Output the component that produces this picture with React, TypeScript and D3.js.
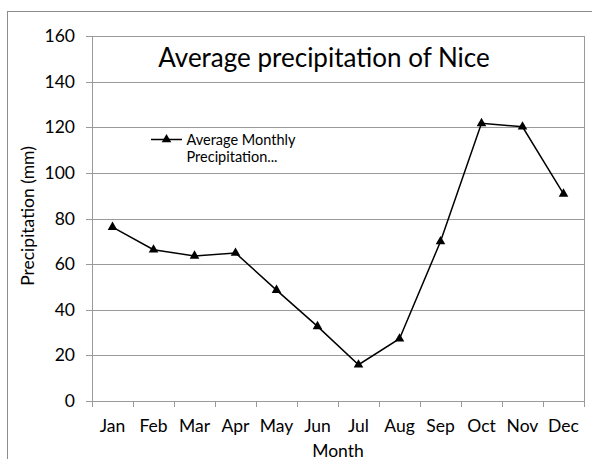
import React from "react";
import * as d3 from "d3";

const months = ["Jan", "Feb", "Mar", "Apr", "May", "Jun", "Jul", "Aug", "Sep", "Oct", "Nov", "Dec"];
const precipitation = [76.2, 66.3, 63.6, 64.9, 48.6, 32.7, 15.9, 27.3, 69.9, 121.7, 120.2, 90.8];
const yTicks = [0, 20, 40, 60, 80, 100, 120, 140, 160];
const titleText = "Average precipitation of Nice";
const legendLines = ["Average Monthly", "Precipitation..."];
const xTitle = "Month";
const yTitle = "Precipitation (mm)";

const W = 592;
const H = 459;
const plot = { left: 92, right: 584, top: 36, bottom: 401 };
const FONT = "Lato, 'Open Sans', 'DejaVu Sans', sans-serif";
const GRID = "#9a9a9a";

export default function App() {
  const x = d3.scaleBand<string>().domain(months).range([plot.left, plot.right]).padding(0);
  const y = d3.scaleLinear().domain([0, 160]).range([plot.bottom, plot.top]);
  const cx = (m: string) => (x(m) as number) + x.bandwidth() / 2;
  const line = d3
    .line<number>()
    .x((_, i) => cx(months[i]))
    .y((d) => y(d));
  const tri = d3.symbol().type(d3.symbolTriangle).size(40)() as string;
  const xTickPos = months.map((m) => x(m) as number).concat([plot.right]);

  return (
    <svg
      width={W}
      height={H}
      style={{ position: "absolute", left: 0, top: 0, background: "#fff" }}
      fontFamily={FONT}
    >
      <rect x={0} y={0} width={W} height={H} fill="#fff" />
      <rect x={7.5} y={11.5} width={W + 20} height={H + 20} fill="none" stroke="#8c8c8c" strokeWidth={1} />

      {yTicks.map((t) => (
        <g key={t}>
          <line x1={plot.left - 6} x2={plot.right} y1={Math.round(y(t)) + 0.5} y2={Math.round(y(t)) + 0.5} stroke={GRID} strokeWidth={1} />
          <text x={75} y={y(t) + 6} textAnchor="end" fontSize={17.5} fill="#000">
            {t}
          </text>
        </g>
      ))}
      <line x1={plot.left + 0.5} x2={plot.left + 0.5} y1={plot.top} y2={plot.bottom + 6} stroke={GRID} />
      <line x1={plot.right + 0.5} x2={plot.right + 0.5} y1={plot.top} y2={plot.bottom + 6} stroke={GRID} />
      {xTickPos.map((p, i) => (
        <line key={i} x1={Math.round(p) + 0.5} x2={Math.round(p) + 0.5} y1={plot.bottom} y2={plot.bottom + 6} stroke={GRID} />
      ))}
      {months.map((m) => (
        <text key={m} x={cx(m)} y={432} textAnchor="middle" fontSize={17.5} fill="#000">
          {m}
        </text>
      ))}

      <text x={338} y={456.5} textAnchor="middle" fontSize={17.5} fill="#000">
        {xTitle}
      </text>
      <text transform={`translate(33.5,216) rotate(-90)`} textAnchor="middle" fontSize={17.5} fill="#000">
        {yTitle}
      </text>

      <text x={324} y={67} textAnchor="middle" fontSize={26} fill="#000">
        {titleText}
      </text>

      <path d={line(precipitation) as string} fill="none" stroke="#000" strokeWidth={1.5} />
      {precipitation.map((v, i) => (
        <path key={i} d={tri} transform={`translate(${cx(months[i])},${y(v)})`} fill="#000" />
      ))}

      <line x1={151} x2={182} y1={139.5} y2={139.5} stroke="#000" strokeWidth={1.5} />
      <path d={tri} transform="translate(166.5,139.5)" fill="#000" />
      {legendLines.map((s, i) => (
        <text key={i} x={186.5} y={145 + i * 17.3} fontSize={14.5} fill="#000">
          {s}
        </text>
      ))}
    </svg>
  );
}
